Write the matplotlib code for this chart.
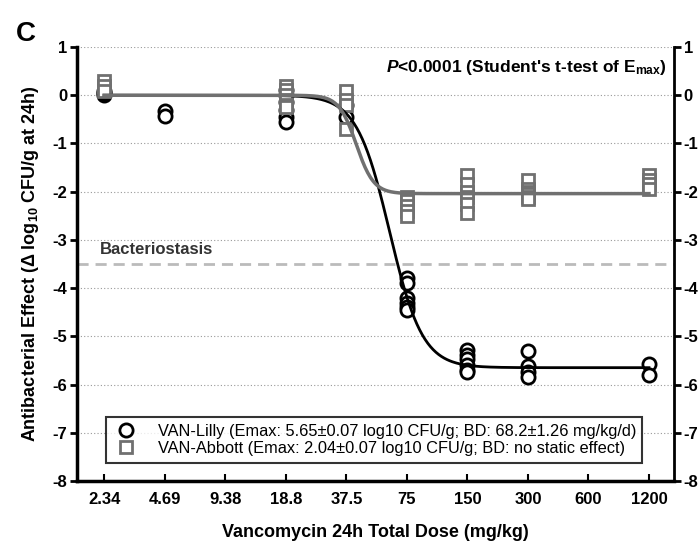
import numpy as np
import matplotlib.pyplot as plt

plt.rcParams['font.family'] = ['Liberation Sans', 'DejaVu Sans']
plt.rcParams['axes.unicode_minus'] = False
plt.rcParams['mathtext.fontset'] = 'custom'
plt.rcParams['mathtext.rm'] = 'Liberation Sans:bold'
plt.rcParams['mathtext.it'] = 'Liberation Sans:bold:italic'
plt.rcParams['mathtext.bf'] = 'Liberation Sans:bold'

# dose levels (mg/kg) and tick labels
doses = [2.34, 4.69, 9.38, 18.8, 37.5, 75, 150, 300, 600, 1200]
dose_labels = ['2.34', '4.69', '9.38', '18.8', '37.5', '75', '150', '300', '600', '1200']

lilly_obs = {
    2.34: [0.0, 0.05, 0.08],
    4.69: [-0.32, -0.42],
    18.8: [0.1, 0.0, -0.15, -0.3, -0.45, -0.55],
    37.5: [-0.2, -0.45],
    75: [-3.78, -3.9, -4.2, -4.3, -4.4, -4.45],
    150: [-5.28, -5.38, -5.48, -5.6, -5.7, -5.75],
    300: [-5.3, -5.62, -5.75, -5.85],
    1200: [-5.58, -5.8],
}
abbott_obs = {
    2.34: [0.3, 0.2, 0.08],
    18.8: [0.2, 0.1, 0.0, -0.1, -0.2, -0.25],
    37.5: [0.08, -0.1, -0.2, -0.7],
    75: [-2.1, -2.2, -2.3, -2.4, -2.5],
    150: [-1.65, -1.85, -2.0, -2.1, -2.25, -2.45],
    300: [-1.75, -1.95, -2.0, -2.05, -2.1, -2.15],
    1200: [-1.65, -1.75, -1.85, -1.95],
}

# fitted sigmoid Emax model parameters
lilly_emax, lilly_ec50, lilly_hill = 5.65, 61.5, 5.3
abbott_emax, abbott_ec50, abbott_hill = 2.04, 42.0, 10.0
bacteriostasis = -3.5


def emax_model(d, emax, ec50, hill):
    return -emax * d ** hill / (d ** hill + ec50 ** hill)


def flatten(obs):
    xs, ys = [], []
    for d, vals in obs.items():
        xs += [d] * len(vals)
        ys += vals
    return xs, ys


fig = plt.figure(figsize=(6.99, 5.47), dpi=100)
ax = fig.add_axes([0.110, 0.1207, 0.854, 0.7933])
ax.set_xscale('log', base=2)
ax.set_xlim(2.34 * 2 ** -0.45, 1200 * 2 ** 0.41)
ax.set_ylim(-8, 1)

# grid and bacteriostasis line
for yv in range(-7, 2):
    ax.axhline(yv, color='#999999', lw=0.8, ls=(0, (1, 2)), zorder=0)
ax.axhline(bacteriostasis, color='#bbbbbb', lw=2, ls=(0, (4, 2.5)), zorder=1)
ax.text(2.34 * 2 ** -0.07, bacteriostasis + 0.14, 'Bacteriostasis', fontsize=12,
        fontweight='bold', color='#333333', ha='left', va='bottom')

lx, ly = flatten(lilly_obs)
ax.plot(lx, ly, ls='none', marker='o', ms=9.5, mfc='white', mec='black', mew=2,
        zorder=3, label='VAN-Lilly (Emax: 5.65\u00b10.07 log10 CFU/g; BD: 68.2\u00b11.26 mg/kg/d)')
axx, axy = flatten(abbott_obs)
ax.plot(axx, axy, ls='none', marker='s', ms=8.5, mfc='white', mec='#707070', mew=2,
        zorder=4, label='VAN-Abbott (Emax: 2.04\u00b10.07 log10 CFU/g; BD: no static effect)')

xd = np.geomspace(doses[0], doses[-1], 400)
ax.plot(xd, emax_model(xd, lilly_emax, lilly_ec50, lilly_hill), color='black', lw=2, zorder=5)
ax.plot(xd, emax_model(xd, abbott_emax, abbott_ec50, abbott_hill), color='#707070', lw=2.5, zorder=6)

# axes styling
ax.set_xticks(doses)
ax.set_xticklabels(dose_labels)
ax.xaxis.set_minor_locator(plt.NullLocator())
ax.set_yticks(range(-8, 2))
ax.tick_params(axis='x', direction='in', length=5, width=1.5, labelsize=12, pad=8)
ax.tick_params(axis='y', direction='out', length=5, width=2, labelsize=12, pad=2,
               right=True, labelright=True)
for lab in ax.get_xticklabels() + ax.get_yticklabels():
    lab.set_fontweight('bold')
ax.spines['top'].set_visible(False)
ax.spines['left'].set_linewidth(2.5)
ax.spines['right'].set_linewidth(2)
ax.spines['bottom'].set_linewidth(2.5)

ax.set_xlabel('Vancomycin 24h Total Dose (mg/kg)', fontsize=13, fontweight='bold', labelpad=12)
ax.set_ylabel(r'Antibacterial Effect ($\Delta$ log$_{10}$ CFU/g at 24h)', fontsize=13,
              fontweight='bold', labelpad=8)

ax.text(0.988, 0.975, r"$P$<0.0001 (Student's t-test of E$_{\rm max}$)", transform=ax.transAxes,
        ha='right', va='top', fontsize=12.5, fontweight='bold')

leg = ax.legend(loc='lower left', bbox_to_anchor=(0.0486, 0.0415, 0.898, 0.12), mode='expand',
                borderaxespad=0, fontsize=11.8, frameon=True, fancybox=False, edgecolor='black',
                handletextpad=1.1, borderpad=0.45, labelspacing=0.1, handlelength=1.6)
leg.get_frame().set_linewidth(1.5)
leg.set_zorder(10)

fig.text(0.022, 0.925, 'C', fontsize=20, fontweight='bold')

fig.savefig('out.png', dpi=100)
